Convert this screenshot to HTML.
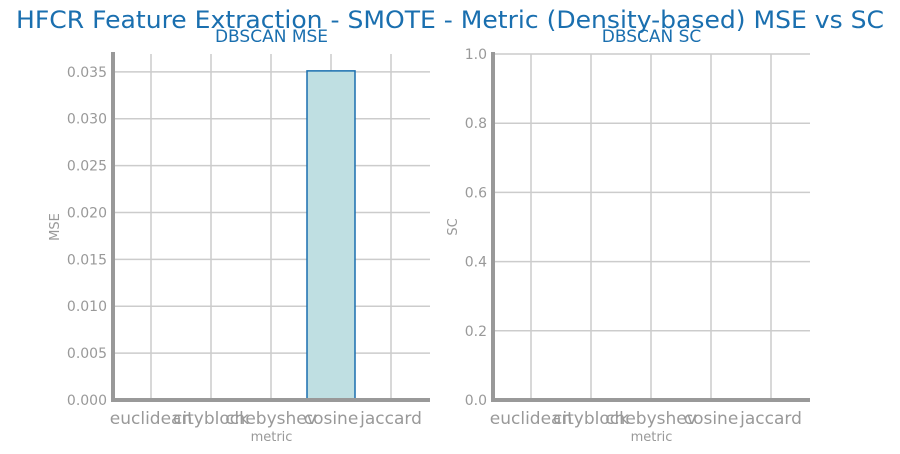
<!DOCTYPE html>
<html><head><meta charset="utf-8"><style>
body{margin:0;background:#fff;font-family:"DejaVu Sans","Liberation Sans",sans-serif;}
</style></head><body>
<svg width="900" height="450" xmlns="http://www.w3.org/2000/svg">
<text x="450" y="28" text-anchor="middle" font-size="24" textLength="868" lengthAdjust="spacingAndGlyphs" style="fill:#1a6faf">HFCR Feature Extraction - SMOTE - Metric (Density-based) MSE vs SC</text>
<g id="left"></g>
<g id="right"></g>
</svg>
<script>
const categories = ["euclidean","cityblock","chebyshev","cosine","jaccard"];
const mseValues = [0, 0, 0, 0.0351, 0];
const scValues = [0, 0, 0, 0, 0];
const mseTicks = ["0.000","0.005","0.010","0.015","0.020","0.025","0.030","0.035"];
const scTicks = ["0.0","0.2","0.4","0.6","0.8","1.0"];
const NS="http://www.w3.org/2000/svg";
function mk(parent,tag,attrs,text){const e=document.createElementNS(NS,tag);for(const k in attrs)e.setAttribute(k,attrs[k]);if(text!==undefined)e.textContent=text;parent.appendChild(e);return e;}
function panel(gid,x0,x1,yMax,ticks,values,title,ylabel){
  const g=document.getElementById(gid);
  const yTop=54,yBot=400;
  const ys=v=>yBot-(v/yMax)*(yBot-yTop);
  const xs=i=>x0+38+i*60;
  categories.forEach((c,i)=>{
    const l=mk(g,'line',{x1:xs(i),x2:xs(i),y1:yTop,y2:yBot,stroke:'#cccccc','stroke-width':1.5});
    
    
  });
  ticks.forEach(t=>{
    const y=ys(parseFloat(t));
    const l=mk(g,'line',{x1:x0,x2:x1,y1:y,y2:y,stroke:'#cccccc','stroke-width':1.5});
    
    
    const tx=mk(g,'text',{x:x0-6,y:y+5,'text-anchor':'end','font-size':14,fill:'#999'},t);
    
    
  });
  values.forEach((v,i)=>{
    if(v<=0)return;
    const b=mk(g,'rect',{x:xs(i)-24,y:ys(v),width:48,height:yBot-ys(v),fill:'#bfdfe2',stroke:'#1a6faf','stroke-width':1.5});
    
    
  });
  categories.forEach((c,i)=>{
    const t=mk(g,'text',{x:xs(i),y:424,'text-anchor':'middle','font-size':17,fill:'#999'},c);
    
    
  });
  const ax=mk(g,'path',{d:`M${x0} ${yTop-2}V${yBot}H${x1}`,fill:'none',stroke:'#999','stroke-width':4});
  
  
  const tt=mk(g,'text',{x:(x0+x1)/2,y:42,'text-anchor':'middle','font-size':17,fill:'#1a6faf'},title);
  
  
  const xl=mk(g,'text',{x:(x0+x1)/2,y:441,'text-anchor':'middle','font-size':13,fill:'#999'},'metric');
  
  
  const yx=x0-(gid==='left'?54:36);
  const yl=mk(g,'text',{x:yx,y:227,'text-anchor':'middle','font-size':13,fill:'#999',transform:`rotate(-90 ${yx} 227)`},ylabel);
  
  
}
panel('left',113,430,0.0369,mseTicks,mseValues,'DBSCAN MSE','MSE');
panel('right',493,810,1.0,scTicks,scValues,'DBSCAN SC','SC');
</script>
</body></html>
